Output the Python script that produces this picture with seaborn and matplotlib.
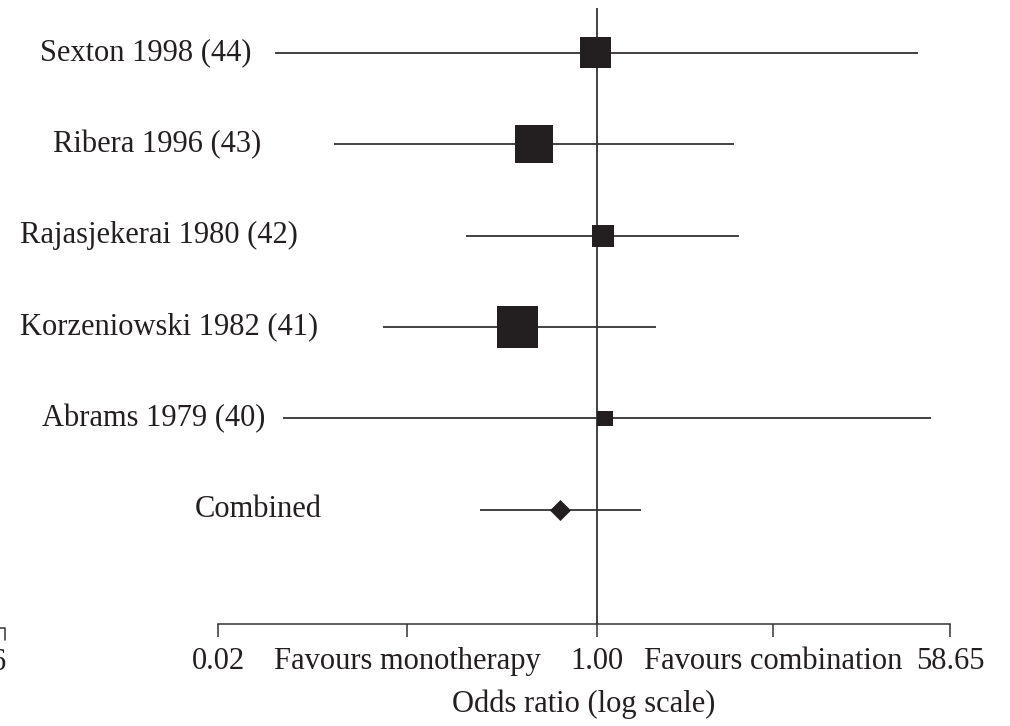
import numpy as np
import pandas as pd
import seaborn as sns
import matplotlib.pyplot as plt
from matplotlib.lines import Line2D
from matplotlib.transforms import blended_transform_factory

# study-level odds ratios with 95% CI and relative weight (%)
studies = ["Sexton 1998 (44)", "Ribera 1996 (43)", "Rajasjekerai 1980 (42)",
           "Korzeniowski 1982 (41)", "Abrams 1979 (40)"]
odds_ratio = [0.985, 0.52, 1.07, 0.44, 1.10]
ci_low = [0.036, 0.066, 0.26, 0.11, 0.039]
ci_high = [40.5, 4.85, 5.14, 1.97, 47.0]
weight = [20, 30, 10, 35, 5]

combined_label = "Combined"
combined_or = 0.68
combined_low = 0.30
combined_high = 1.66

tick_values = [0.02, np.sqrt(0.02), 1.0, np.sqrt(58.65), 58.65]
tick_labels = ["0.02", "Favours monotherapy", "1.00", "Favours combination", "58.65"]

# left edge of each row label, in figure pixels
label_x = [40, 53, 20, 20, 42, 195]

INK = "#231f20"
LINE = "#333333"

# the axis is log, but the two halves are drawn with different stretch
LEFT_PX = 223.1
RIGHT_PX = 199.7


def fwd(x):
    lx = np.log10(np.clip(np.asarray(x, dtype=float), 1e-12, None))
    return np.where(lx < 0, lx * LEFT_PX, lx * RIGHT_PX)


def inv(y):
    y = np.asarray(y, dtype=float)
    return np.where(y < 0, 10 ** (y / LEFT_PX), 10 ** (y / RIGHT_PX))


df = pd.DataFrame({"study": studies, "or": odds_ratio, "low": ci_low,
                   "high": ci_high, "weight": weight})
df["row"] = np.arange(len(df))
comb = pd.DataFrame({"or": [combined_or], "row": [len(df)]})

sns.set_style("white")
plt.rcParams["font.family"] = ["Liberation Serif", "DejaVu Serif"]

fig = plt.figure(figsize=(10.1, 7.26), dpi=100)
ax = fig.add_axes([218 / 1010, 102 / 726, 732 / 1010, 616 / 726])

ax.axvline(1.0, color=LINE, lw=1.3, zorder=2)
ax.hlines(df["row"], df["low"], df["high"], color=LINE, lw=1.3, zorder=2)
ax.hlines(comb["row"], combined_low, combined_high, color=LINE, lw=1.3, zorder=2)

area_per_weight = 25.0
sns.scatterplot(data=df, x="or", y="row", size="weight",
                sizes=(0, area_per_weight * 35), size_norm=(0, 35),
                marker="s", color=INK, linewidth=0, legend=False,
                zorder=3, ax=ax)
sns.scatterplot(data=comb, x="or", y="row", marker="D", s=115,
                color=INK, linewidth=0, legend=False, zorder=3, ax=ax)

ax.set_xscale("function", functions=(fwd, inv))
ax.set_xlim(0.02, 58.65)
ax.set_ylim(6.25, -0.49)

ax.set_xticks(tick_values)
ax.set_xticklabels(tick_labels)
ax.set_yticks([])
ax.set_xlabel("Odds ratio (log scale)", fontsize=22, color=INK, labelpad=10)
ax.set_ylabel("")
ax.tick_params(axis="x", direction="out", length=9.4, width=1.1,
               color=LINE, labelsize=22, labelcolor=INK, pad=7, bottom=True)
for side in ["top", "right", "left"]:
    ax.spines[side].set_visible(False)
ax.spines["bottom"].set_color(LINE)
ax.spines["bottom"].set_linewidth(1.1)

trans = blended_transform_factory(fig.transFigure, ax.transData)
for i, name in enumerate(studies + [combined_label]):
    ax.text(label_x[i] / 1010, i, name, transform=trans, ha="left",
            va="center", fontsize=22, color=INK)

# leftover edge of a neighbouring panel in the source
fig.add_artist(Line2D([0, 5 / 1010, 5 / 1010], [98 / 726, 98 / 726, 86 / 726],
                      transform=fig.transFigure, color=LINE, lw=1.1))
fig.text(6 / 1010, 78 / 726, "6", ha="right", va="top", fontsize=22, color=INK)

fig.savefig("out.png", dpi=100)
